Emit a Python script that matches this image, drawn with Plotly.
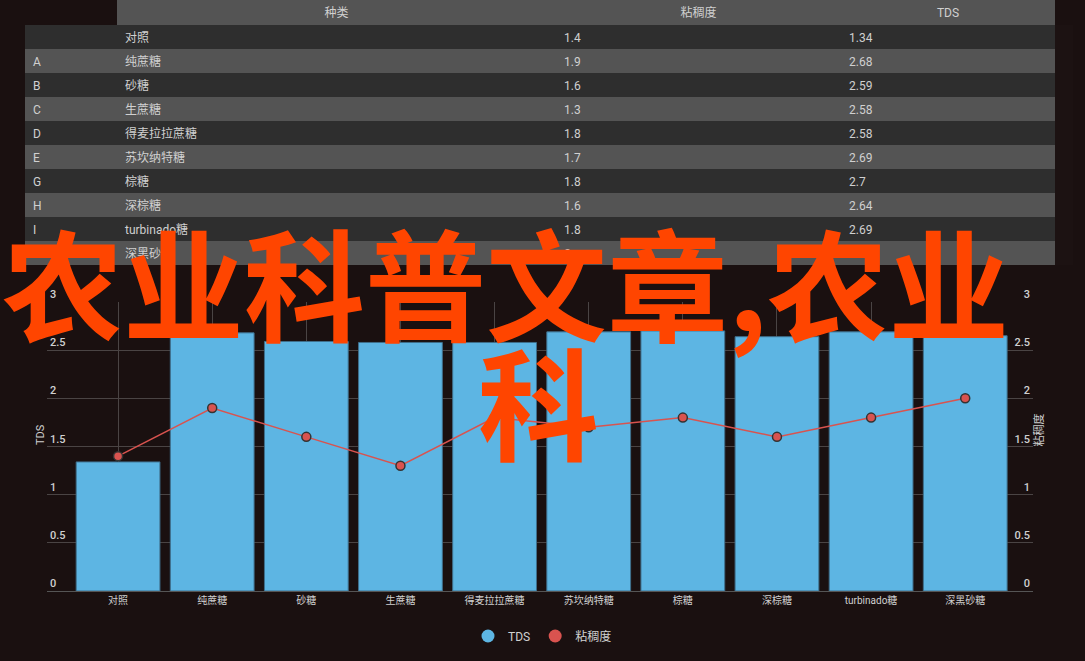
import plotly.graph_objects as go

# table / chart data
row_ids = ["", "A", "B", "C", "D", "E", "G", "H", "I", "K"]
kinds = ["对照", "纯蔗糖", "砂糖", "生蔗糖", "得麦拉拉蔗糖", "苏坎纳特糖",
         "棕糖", "深棕糖", "turbinado糖", "深黑砂糖"]
viscosity = [1.4, 1.9, 1.6, 1.3, 1.8, 1.7, 1.8, 1.6, 1.8, 2]
tds = [1.34, 2.68, 2.59, 2.58, 2.58, 2.69, 2.7, 2.64, 2.69, 2.65]
y_ticks = [0, 0.5, 1, 1.5, 2, 2.5, 3]

W, H = 1085, 661
BG = "#1a1010"
BLUE = "#5db5e3"
RED = "#d9534f"
TXT = "#d0d0d0"
GRID = "#4a4444"


def px_x(p):
    return p / W


def px_y(p):
    return 1 - p / H


fig = go.Figure()

row_fill = ["#2e2e2e" if i % 2 == 0 else "#545454" for i in range(len(kinds))]
fig.add_trace(go.Table(
    domain=dict(x=[px_x(25), px_x(1055)], y=[px_y(266), px_y(0)]),
    columnwidth=[92, 439, 285, 214],
    header=dict(
        values=["", "种类", "粘稠度", "TDS"],
        fill_color=[BG, "#545454", "#545454", "#545454"],
        line=dict(width=0),
        align="center",
        height=25,
        font=dict(family="Roboto, Noto Sans CJK SC", size=12, color=TXT),
    ),
    cells=dict(
        values=[row_ids, kinds, [str(v) for v in viscosity], [str(v) for v in tds]],
        fill_color=[row_fill] * 4,
        line=dict(width=0),
        align="left",
        height=24,
        font=dict(family="Roboto, Noto Sans CJK SC", size=12, color=TXT),
    ),
))

fig.add_trace(go.Bar(
    x=kinds, y=tds, name="TDS", width=0.89,
    marker=dict(color=BLUE, line=dict(color="#3f6f8c", width=1)),
    showlegend=False, yaxis="y",
))
fig.add_trace(go.Scatter(
    x=kinds, y=viscosity, name="粘稠度", mode="lines+markers",
    line=dict(color=RED, width=1.5),
    marker=dict(size=9, color=RED, line=dict(color="#333333", width=1.5)),
    showlegend=False, yaxis="y2",
))

# legend entries drawn as round markers
fig.add_trace(go.Scatter(x=[None], y=[None], name="TDS", mode="markers",
                         marker=dict(size=13, color=BLUE), yaxis="y"))
fig.add_trace(go.Scatter(x=[None], y=[None], name="粘稠度", mode="markers",
                         marker=dict(size=13, color=RED), yaxis="y2"))

axis_font = dict(family="Roboto, Noto Sans CJK SC", size=11, color=TXT, weight=500)

fig.update_layout(
    width=W, height=H,
    margin=dict(l=0, r=0, t=0, b=0, autoexpand=False),
    paper_bgcolor=BG, plot_bgcolor=BG,
    font=dict(family="Roboto, Noto Sans CJK SC", color=TXT),
    xaxis=dict(
        domain=[px_x(47), px_x(1033)],
        type="category",
        range=[-0.755, 9.72],
        showgrid=True, gridcolor=GRID, gridwidth=1,
        showline=True, linecolor="#555555",
        ticks="", tickfont=dict(family="Roboto, Noto Sans CJK SC", size=10, color=TXT),
        automargin=False,
    ),
    yaxis=dict(
        domain=[px_y(591), px_y(302)],
        range=[0, 3], tickvals=y_ticks,
        showgrid=True, gridcolor=GRID, gridwidth=1,
        zeroline=False, showline=False,
        ticklabelposition="inside top", ticklabeloverflow="allow",
        tickfont=axis_font, automargin=False,
    ),
    yaxis2=dict(
        overlaying="y", side="right",
        range=[0, 3], tickvals=y_ticks,
        showgrid=False, zeroline=False, showline=False,
        ticklabelposition="inside top", ticklabeloverflow="allow",
        tickfont=axis_font, automargin=False,
    ),
    legend=dict(
        orientation="h", x=0.5, xanchor="center",
        yref="paper", y=px_y(636), yanchor="middle",
        font=dict(family="Roboto, Noto Sans CJK SC", size=12, color=TXT),
        bgcolor="rgba(0,0,0,0)", itemwidth=30,
    ),
    annotations=[
        dict(text="TDS", x=px_x(32), y=px_y(447), xref="paper", yref="paper",
             textangle=-90, showarrow=False,
             font=dict(family="Roboto", size=11, color=TXT)),
        dict(text="粘稠度", x=px_x(1047), y=px_y(449), xref="paper", yref="paper",
             textangle=-90, showarrow=False,
             font=dict(family="Noto Sans CJK SC", size=11, color=TXT)),
        dict(text="农业科普文章,农业", x=px_x(505), y=px_y(279),
             xref="paper", yref="paper", showarrow=False,
             font=dict(family="Noto Sans CJK SC", size=121, color="#ff4500", weight="bold")),
        dict(text="科", x=px_x(538), y=px_y(398),
             xref="paper", yref="paper", showarrow=False,
             font=dict(family="Noto Sans CJK SC", size=121, color="#ff4500", weight="bold")),
    ],
)

fig.write_html("out.html", config=dict(displayModeBar=False),
               post_script="document.body.style.margin='0';")
